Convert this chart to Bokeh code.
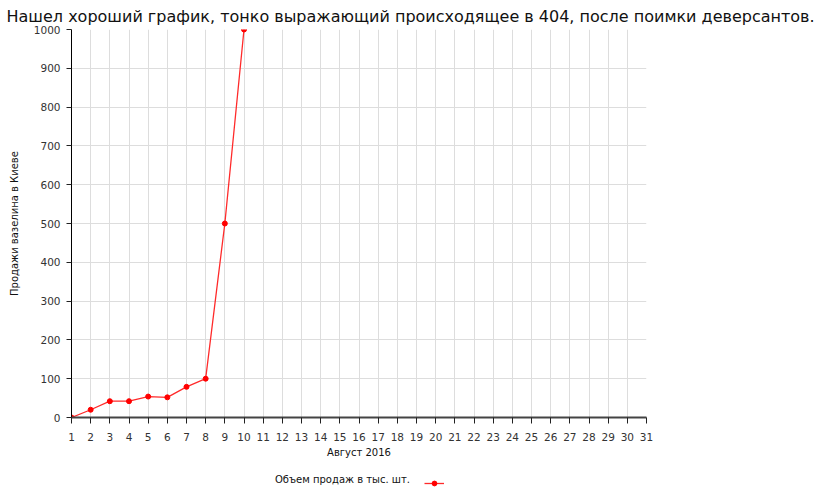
from bokeh.plotting import figure
from bokeh.models import FixedTicker, Legend, LegendItem, Range1d
from bokeh.layouts import column
from bokeh.embed import file_html
from bokeh.resources import INLINE

days = [1, 2, 3, 4, 5, 6, 7, 8, 9, 10]
sales = [0, 20, 42, 42, 54, 52, 79, 100, 500, 1000]
x_ticks = list(range(1, 32))
y_ticks = list(range(0, 1001, 100))
title_text = "Нашел хороший график, тонко выражающий происходящее в 404, после поимки деверсантов."
series_name = "Объем продаж в тыс. шт."
x_label = "Август 2016"
y_label = "Продажи вазелина в Киеве"

FONT = "DejaVu Sans"
LINE_COLOR = "#ff2a2a"
DOT_COLOR = "#ff0000"

p = figure(width=830, height=465, output_backend="svg", toolbar_location=None,
           x_range=Range1d(1, 31), y_range=Range1d(0, 1000),
           min_border_left=71, min_border_right=184, min_border_top=0, min_border_bottom=48)
p.title.text = title_text
p.title.text_font = FONT
p.title.text_font_size = "16px"
p.title.text_font_style = "normal"
p.title.text_color = "#111111"
p.title.align = "left"
p.title.offset = -65
p.title.standoff = 8
p.outline_line_color = None

p.xaxis.ticker = FixedTicker(ticks=x_ticks)
p.yaxis.ticker = FixedTicker(ticks=y_ticks)
p.xgrid.ticker = FixedTicker(ticks=x_ticks)
p.ygrid.ticker = FixedTicker(ticks=y_ticks)
p.grid.grid_line_color = "#dddddd"
p.grid.grid_line_width = 1

for ax in (p.xaxis, p.yaxis):
    ax.major_label_text_font = FONT
    ax.major_label_text_font_size = "10.5px"
    ax.major_label_text_color = "#333333"
    ax.axis_label_text_font = FONT
    ax.axis_label_text_font_size = "10px"
    ax.axis_label_text_font_style = "normal"
    ax.axis_label_text_color = "#111111"
    ax.minor_tick_line_color = None
    ax.major_tick_in = 0

p.xaxis.axis_label = x_label
p.yaxis.axis_label = y_label
p.xaxis.axis_line_color = "#444444"
p.xaxis.axis_line_width = 2
p.xaxis.major_tick_line_color = "#222222"
p.xaxis.major_tick_out = 6
p.xaxis.major_label_standoff = 9
p.xaxis.axis_label_standoff = 3
p.yaxis.axis_line_color = "#000000"
p.yaxis.major_tick_line_color = "#222222"
p.yaxis.major_tick_out = 5
p.yaxis.major_label_standoff = 6
p.yaxis.axis_label_standoff = 11

p.line(days, sales, line_color=LINE_COLOR, line_width=1.3)
p.scatter(days, sales, size=5, fill_color=DOT_COLOR, line_color=DOT_COLOR)

# legend strip below the chart (its frame is aligned with the chart's frame);
# its renderers hold the series but lie outside this strip's ranges, so only
# the legend sample shows
lf = figure(width=830, height=30, output_backend="svg", toolbar_location=None,
            x_range=Range1d(-20, -10), y_range=Range1d(-20, -10),
            x_axis_type=None, y_axis_type=None,
            min_border_left=0, min_border_right=0, min_border_top=0, min_border_bottom=0)
lf.grid.visible = False
lf.outline_line_color = None
l_ln = lf.line(days, sales, line_color=LINE_COLOR, line_width=1.3)
l_pt = lf.scatter(days, sales, size=5, fill_color=DOT_COLOR, line_color=DOT_COLOR)
l_dummy = lf.scatter(days, sales, size=1, alpha=0)

leg1 = Legend(items=[LegendItem(label=series_name, renderers=[l_dummy])],
              location=(204, 6), glyph_width=0, label_standoff=0,
              padding=0, margin=0, background_fill_alpha=0, border_line_color=None,
              label_text_font=FONT, label_text_font_size="10px", label_text_color="#111111")
leg2 = Legend(items=[LegendItem(label=" ", renderers=[l_ln, l_pt])],
              location=(353, 6), glyph_width=20, glyph_height=12, label_standoff=0,
              padding=0, margin=0, background_fill_alpha=0, border_line_color=None,
              label_text_font=FONT, label_text_font_size="10px")
lf.add_layout(leg1, "center")
lf.add_layout(leg2, "center")

layout = column(p, lf, spacing=0)
open("out.html", "w").write(file_html(layout, INLINE))
